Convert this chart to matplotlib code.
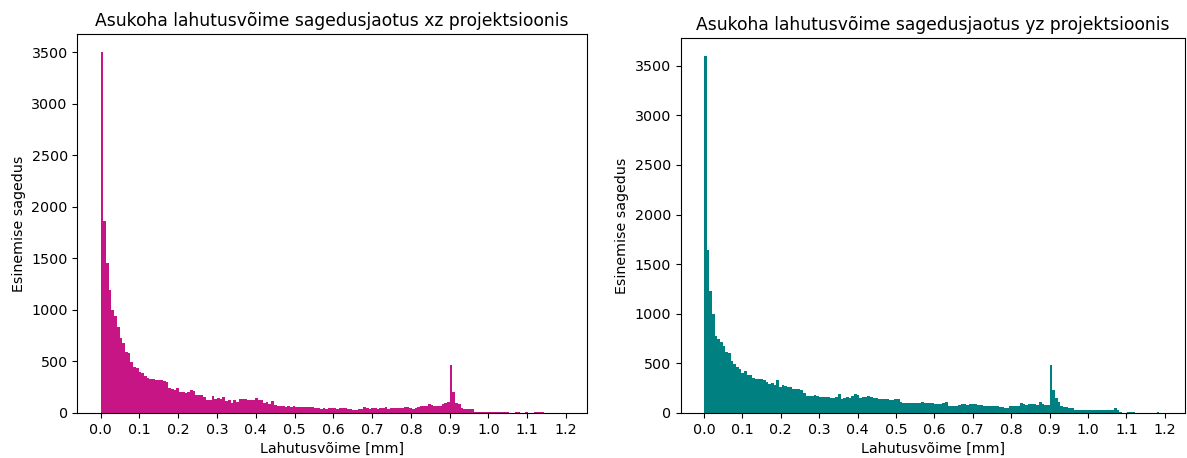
import numpy as np
import matplotlib
matplotlib.use("Agg")
import matplotlib.pyplot as plt

# Histogram counts per bin (same bin edges for both projections)
counts_xz = [
    3500, 1860, 1450, 1190, 1000, 940, 830, 725, 680, 590,
    577, 490, 450, 440, 400, 390, 356, 343, 330, 325,
    321, 321, 321, 310, 298, 243, 233, 227, 246, 207,
    207, 198, 207, 227, 217, 178, 178, 178, 155, 130,
    130, 168, 136, 146, 136, 155, 117, 130, 97, 130,
    107, 139, 139, 139, 130, 130, 130, 149, 123, 123,
    97, 107, 91, 117, 78, 71, 65, 65, 55, 65,
    55, 65, 55, 55, 55, 55, 58, 55, 55, 49,
    49, 42, 45, 42, 45, 49, 49, 42, 45, 49,
    47, 42, 42, 32, 32, 36, 42, 58, 52, 42,
    49, 49, 42, 49, 52, 58, 42, 49, 49, 49,
    49, 49, 55, 58, 50, 42, 49, 60, 71, 71,
    71, 87, 78, 71, 71, 71, 85, 95, 104, 467,
    201, 97, 91, 50, 39, 39, 39, 39, 12, 10,
    11, 9, 10, 8, 10, 9, 10, 6, 9, 10,
    8, 3, 2, 8, 9, 2, 3, 9, 2, 3,
    10, 9, 10, 8, 0, 0, 0, 0, 0, 0,
    1,
]

counts_yz = [
    3600, 1640, 1230, 1000, 776, 742, 719, 680, 615, 608,
    528, 495, 461, 445, 408, 425, 384, 384, 348, 341,
    341, 341, 335, 311, 288, 304, 281, 328, 264, 284,
    275, 264, 264, 244, 244, 244, 230, 201, 170, 170,
    175, 181, 170, 160, 160, 160, 160, 155, 150, 160,
    191, 144, 150, 160, 155, 175, 190, 181, 154, 160,
    162, 167, 165, 150, 150, 145, 137, 144, 140, 127,
    135, 144, 137, 114, 105, 100, 104, 100, 100, 100,
    100, 107, 97, 97, 97, 97, 90, 90, 90, 100,
    107, 74, 74, 74, 74, 85, 94, 94, 84, 94,
    94, 90, 84, 77, 70, 72, 74, 74, 70, 67,
    60, 58, 54, 54, 67, 70, 74, 70, 100, 92,
    84, 90, 90, 88, 84, 107, 94, 80, 84, 481,
    227, 150, 107, 70, 64, 64, 55, 47, 33, 33,
    27, 27, 27, 30, 33, 30, 30, 33, 30, 27,
    30, 33, 27, 54, 33, 7, 0, 5, 7, 7,
    7, 0, 0, 0, 0, 0, 0, 0, 0, 6,
    0,
]

x_ticks = [0.0, 0.1, 0.2, 0.3, 0.4, 0.5, 0.6, 0.7, 0.8, 0.9, 1.0, 1.1, 1.2]

titles = [
    "Asukoha lahutusvõime sagedusjaotus xz projektsioonis",
    "Asukoha lahutusvõime sagedusjaotus yz projektsioonis",
]
xlabel = "Lahutusvõime [mm]"
ylabel = "Esinemise sagedus"
colors = ["#C71585", "#008080"]

plt.rcParams["font.size"] = 10.25

# Bin edges: 171 equal bins, 0.9 mm falls on an edge
n_bins = len(counts_xz)
bin_w = 0.9 / 129
edges = np.arange(n_bins + 1) * bin_w
left_edges = edges[:-1]

fig = plt.figure(figsize=(11.87, 4.58), dpi=100)
ax1 = fig.add_axes([77.5 / 1187, 1 - 413 / 458, (586.5 - 77.5) / 1187, (413 - 34) / 458])
ax2 = fig.add_axes([681 / 1187, 1 - 413 / 458, (1185 - 681) / 1187, (413 - 38) / 458])

for ax, counts, color, title in zip((ax1, ax2), (counts_xz, counts_yz), colors, titles):
    ax.hist(left_edges, bins=edges, weights=counts, color=color)
    ax.set_xticks(x_ticks)
    ax.set_title(title, fontsize=12.3)
    ax.set_xlabel(xlabel)
    ax.set_ylabel(ylabel)

fig.savefig("out.png", dpi=100)
